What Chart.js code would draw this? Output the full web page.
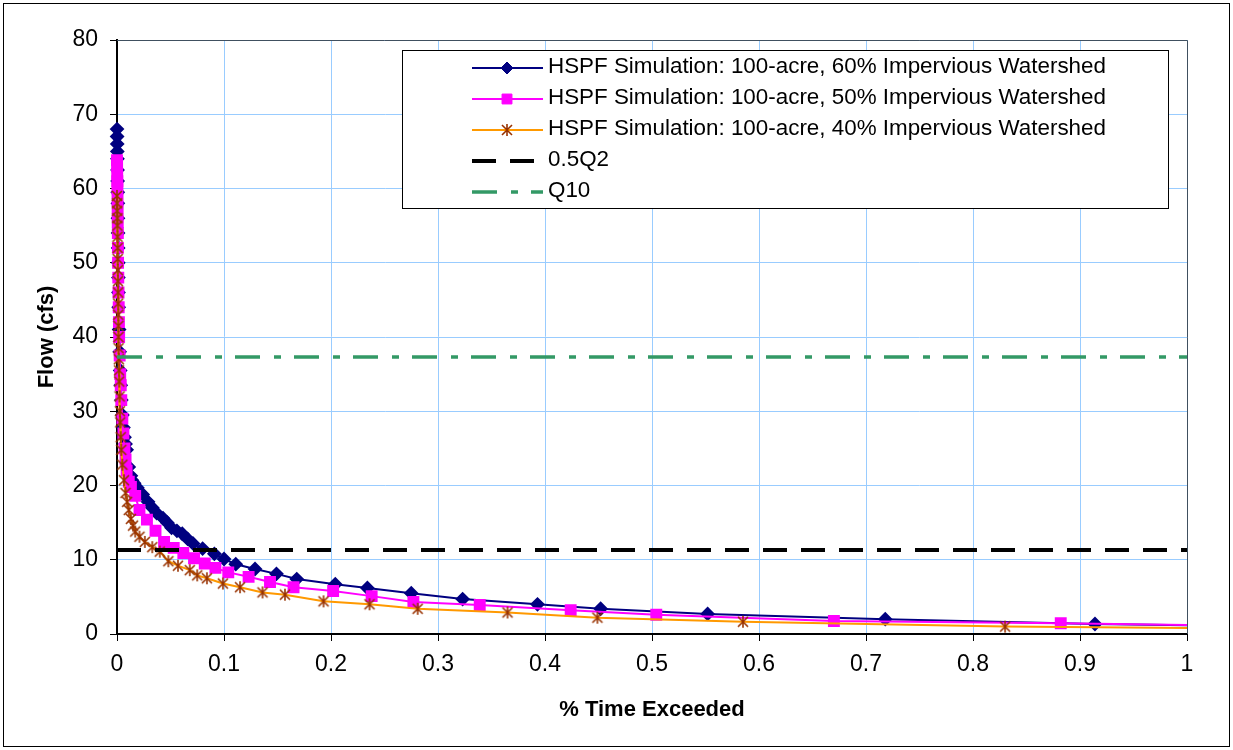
<!DOCTYPE html>
<html>
<head>
<meta charset="utf-8">
<title>Flow Duration</title>
<script src="https://cdn.jsdelivr.net/npm/chart.js@4/dist/chart.umd.min.js"></script>
<style>
  body { margin: 0; background: #fff; }
  canvas { display: block; }
</style>
</head>
<body>
<canvas id="flowChart" width="1233" height="750"></canvas>
<script>
// % time exceeded / flow (cfs)
let time60 = [0, 0.0001, 0.0002, 0.0003, 0.0004, 0.0005, 0.0006, 0.0007, 0.0008, 0.0009, 0.001, 0.0011, 0.0012, 0.0013, 0.0014, 0.0016, 0.002, 0.0025, 0.003, 0.0035, 0.004, 0.005, 0.006, 0.007, 0.008, 0.009, 0.011, 0.013, 0.014, 0.016, 0.019, 0.024, 0.029, 0.033, 0.037, 0.043, 0.047, 0.051, 0.056, 0.061, 0.066, 0.071, 0.080, 0.091, 0.100, 0.111, 0.129, 0.149, 0.168, 0.204, 0.234, 0.275, 0.323, 0.393, 0.452, 0.552, 0.718, 0.914, 1.12];
let flow60 = [68, 67, 66, 65, 64, 62.5, 61, 59.5, 58, 56, 54, 52, 50, 48, 46, 44, 41, 38, 35.5, 33.5, 31.5, 29.5, 27.8, 26.5, 25.6, 24.8, 22.5, 21.3, 20.7, 20.3, 19.7, 18.8, 17.8, 17.0, 16.3, 15.6, 15.0, 14.3, 13.9, 13.5, 12.8, 12.2, 11.5, 10.8, 10.1, 9.4, 8.75, 8.1, 7.4, 6.7, 6.2, 5.5, 4.7, 4.0, 3.4, 2.7, 2.0, 1.35, 0.9];

let time50 = [0, 0.0001, 0.0002, 0.0003, 0.0004, 0.0005, 0.0006, 0.0007, 0.0008, 0.0009, 0.001, 0.0012, 0.0014, 0.0016, 0.0018, 0.002, 0.0025, 0.003, 0.0035, 0.004, 0.005, 0.006, 0.007, 0.008, 0.009, 0.011, 0.013, 0.017, 0.021, 0.028, 0.036, 0.044, 0.053, 0.062, 0.072, 0.082, 0.092, 0.104, 0.123, 0.143, 0.165, 0.202, 0.238, 0.277, 0.339, 0.424, 0.504, 0.670, 0.882, 1.1];
let flow50 = [63.8, 63, 62, 61, 60, 58.5, 57, 55.5, 54, 52, 50, 48, 46, 44, 42, 40, 37.5, 35, 33.5, 31.5, 29, 27, 25, 23.5, 22, 20.5, 19.8, 18.6, 16.7, 15.4, 13.9, 12.4, 11.6, 10.9, 10.2, 9.5, 8.9, 8.3, 7.7, 7.0, 6.3, 5.8, 5.1, 4.3, 3.9, 3.2, 2.6, 1.75, 1.45, 1.0];

let time40 = [0, 0.0001, 0.0002, 0.0003, 0.0004, 0.0005, 0.0006, 0.0007, 0.0008, 0.0009, 0.001, 0.0011, 0.0012, 0.0013, 0.0014, 0.0015, 0.0017, 0.0019, 0.0021, 0.0024, 0.0027, 0.003, 0.0035, 0.004, 0.005, 0.0065, 0.008, 0.0095, 0.011, 0.013, 0.015, 0.017, 0.021, 0.026, 0.033, 0.040, 0.048, 0.057, 0.068, 0.075, 0.084, 0.099, 0.115, 0.136, 0.157, 0.193, 0.236, 0.281, 0.365, 0.449, 0.585, 0.830, 1.08];
let flow40 = [59, 58, 57, 56, 55, 53.5, 52, 50.5, 49, 47.5, 46, 44.5, 43, 41.5, 40, 38.5, 37, 35.5, 34, 32, 30, 28.5, 26.5, 24.8, 22.8, 20.7, 19, 17.8, 16.7, 15.5, 14.6, 13.8, 13.1, 12.4, 11.7, 11.1, 9.8, 9.2, 8.6, 7.9, 7.5, 6.8, 6.3, 5.6, 5.3, 4.4, 4.0, 3.4, 2.9, 2.2, 1.65, 1.0, 0.7];

let halfQ2 = 11.3;
let q10 = 37.3;

let seriesNames = [
    'HSPF Simulation: 100-acre, 60% Impervious Watershed',
    'HSPF Simulation: 100-acre, 50% Impervious Watershed',
    'HSPF Simulation: 100-acre, 40% Impervious Watershed',
    '0.5Q2',
    'Q10'
];

let xTicks = [0, 0.1, 0.2, 0.3, 0.4, 0.5, 0.6, 0.7, 0.8, 0.9, 1];
let yTicks = [0, 10, 20, 30, 40, 50, 60, 70, 80];

const FONT = "'Liberation Sans', Arial, sans-serif";
const CLIP = { left: 10, top: 10, right: 0, bottom: 10 };

function toPoints(xs, ys) {
    return xs.map((x, i) => ({ x: x, y: ys[i] }));
}

// brown asterisk marker (X plus vertical bar)
function makeAsterisk() {
    let c = document.createElement('canvas');
    c.width = 14;
    c.height = 14;
    let g = c.getContext('2d');
    g.strokeStyle = '#993300';
    g.lineWidth = 1.6;
    g.beginPath();
    g.moveTo(7, 1); g.lineTo(7, 13);
    g.moveTo(2, 2); g.lineTo(12, 12);
    g.moveTo(12, 2); g.lineTo(2, 12);
    g.stroke();
    return c;
}
let asterisk = makeAsterisk();

const frameAndLegend = {
    id: 'frameAndLegend',
    beforeDraw(chart) {
        let ctx = chart.ctx;
        ctx.save();
        ctx.fillStyle = '#fff';
        ctx.fillRect(0, 0, chart.width, chart.height);
        ctx.strokeStyle = '#000';
        ctx.lineWidth = 1;
        ctx.strokeRect(3.5, 3.5, 1226, 743);
        ctx.restore();
    },
    afterDraw(chart) {
        let ctx = chart.ctx;
        let a = chart.chartArea;
        ctx.save();
        // plot area frame
        ctx.strokeStyle = '#405060';
        ctx.lineWidth = 1;
        ctx.beginPath();
        ctx.moveTo(a.left, a.top + 0.5);
        ctx.lineTo(a.right + 0.5, a.top + 0.5);
        ctx.lineTo(a.right + 0.5, a.bottom);
        ctx.stroke();

        // legend box
        ctx.fillStyle = '#fff';
        ctx.fillRect(402, 50, 766, 158);
        ctx.strokeStyle = '#000';
        ctx.strokeRect(402.5, 50.5, 766, 158);

        chart.data.datasets.forEach((ds, i) => {
            let y = 68 + i * 31;
            ctx.strokeStyle = ds.borderColor;
            ctx.lineWidth = ds.borderWidth;
            ctx.setLineDash(ds.borderDash || []);
            ctx.beginPath();
            ctx.moveTo(472, y);
            ctx.lineTo(543, y);
            ctx.stroke();
            ctx.setLineDash([]);
            if (ds.pointRadius) {
                ctx.fillStyle = ds.pointBackgroundColor;
                ctx.strokeStyle = ds.pointBorderColor;
                ctx.lineWidth = 1;
                Chart.helpers.drawPoint(ctx, {
                    pointStyle: ds.pointStyle,
                    radius: ds.pointRadius,
                    rotation: 0,
                    borderWidth: 1
                }, 507, y);
            }
            ctx.fillStyle = '#000';
            ctx.font = '22.4px ' + FONT;
            ctx.textBaseline = 'middle';
            ctx.textAlign = 'left';
            ctx.fillText(seriesNames[i], 548, y - 1);
        });
        ctx.restore();
    }
};

let ctx = document.getElementById('flowChart').getContext('2d');

new Chart(ctx, {
    type: 'line',
    data: {
        datasets: [{
            label: seriesNames[0],
            data: toPoints(time60, flow60),
            borderColor: '#000080',
            borderWidth: 2,
            pointStyle: 'rectRot',
            pointRadius: 6,
            pointBackgroundColor: '#000080',
            pointBorderColor: '#000080',
            clip: CLIP,
            order: 5
        }, {
            label: seriesNames[1],
            data: toPoints(time50, flow50),
            borderColor: '#ff00ff',
            borderWidth: 2,
            pointStyle: 'rect',
            pointRadius: 7,
            pointBackgroundColor: '#ff00ff',
            pointBorderColor: '#ff00ff',
            clip: CLIP,
            order: 4
        }, {
            label: seriesNames[2],
            data: toPoints(time40, flow40),
            borderColor: '#ff9900',
            borderWidth: 2,
            pointStyle: asterisk,
            pointRadius: 7,
            pointBackgroundColor: '#993300',
            pointBorderColor: '#993300',
            clip: CLIP,
            order: 3
        }, {
            label: seriesNames[3],
            data: toPoints([0, 1], [halfQ2, halfQ2]),
            borderColor: '#000000',
            borderWidth: 4,
            borderDash: [24, 14],
            pointRadius: 0,
            clip: CLIP,
            order: 2
        }, {
            label: seriesNames[4],
            data: toPoints([0, 1], [q10, q10]),
            borderColor: '#339966',
            borderWidth: 3.5,
            borderDash: [25, 14, 7, 13],
            pointRadius: 0,
            clip: CLIP,
            order: 1
        }]
    },
    options: {
        responsive: false,
        animation: false,
        devicePixelRatio: 1,
        layout: { padding: { left: 0, top: 40, right: 46, bottom: 0 } },
        elements: { line: { tension: 0 } },
        plugins: {
            legend: { display: false },
            tooltip: { enabled: false }
        },
        scales: {
            x: {
                type: 'linear',
                min: 0,
                max: 1,
                afterBuildTicks: s => { s.ticks = xTicks.map(v => ({ value: v })); },
                afterFit: s => { s.height = 116; },
                border: { color: '#000', width: 2 },
                grid: { color: '#99ccff', lineWidth: 1, tickColor: '#000', tickLength: 7 },
                ticks: {
                    autoSkip: false,
                    maxRotation: 0,
                    padding: 10,
                    color: '#000',
                    font: { family: FONT, size: 23 },
                    callback: (v, i) => String(xTicks[i])
                },
                title: {
                    display: true,
                    text: '% Time Exceeded',
                    color: '#000',
                    font: { family: FONT, size: 22, weight: 'bold' },
                    padding: { top: 0, bottom: 27 }
                }
            },
            y: {
                min: 0,
                max: 80,
                afterBuildTicks: s => { s.ticks = yTicks.map(v => ({ value: v })); },
                afterFit: s => { s.width = 117; },
                border: { color: '#000', width: 2 },
                grid: { color: '#99ccff', lineWidth: 1, tickColor: '#000', tickLength: 7 },
                ticks: {
                    autoSkip: false,
                    padding: 12,
                    color: '#000',
                    font: { family: FONT, size: 23 },
                    callback: (v, i) => String(yTicks[i])
                },
                title: {
                    display: true,
                    text: 'Flow (cfs)',
                    color: '#000',
                    font: { family: FONT, size: 22, weight: 'bold' },
                    padding: { top: 34, bottom: 0 }
                }
            }
        }
    },
    plugins: [frameAndLegend]
});
</script>
</body>
</html>
